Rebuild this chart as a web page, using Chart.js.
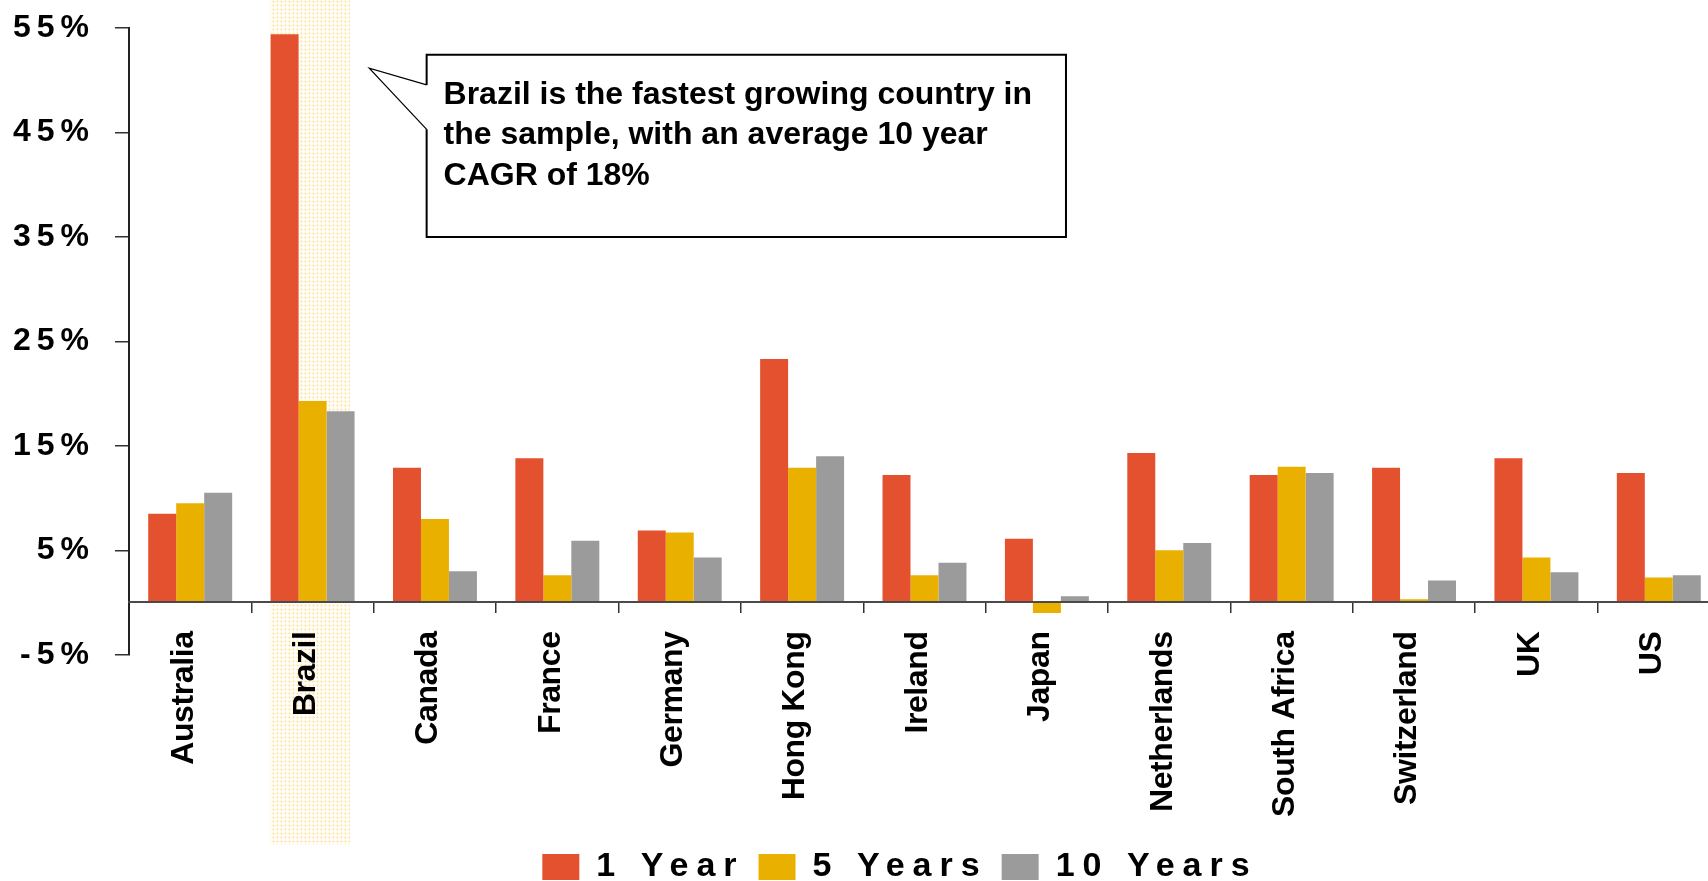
<!DOCTYPE html>
<html>
<head>
<meta charset="utf-8">
<script src="https://cdn.jsdelivr.net/npm/chart.js@4/dist/chart.umd.min.js"></script>
<style>
  html, body { margin: 0; padding: 0; background: #ffffff; overflow: hidden; }
</style>
</head>
<body>
<canvas id="growth" width="1800" height="894" style="display:block;width:1800px;height:894px;"></canvas>
<script>
// Average annual growth by country (%)
const categories = ['Australia', 'Brazil', 'Canada', 'France', 'Germany', 'Hong Kong', 'Ireland',
  'Japan', 'Netherlands', 'South Africa', 'Switzerland', 'UK', 'US'];
const seriesNames = ['1 Year', '5 Years', '10 Years'];
const oneYear   = [8.5, 54.4, 12.9, 13.8, 6.9, 23.3, 12.2, 6.1, 14.3, 12.2, 12.9, 13.8, 12.4];
const fiveYears = [9.5, 19.3, 8.0, 2.6, 6.7, 12.9, 2.6, -1.0, 5.0, 13.0, 0.3, 4.3, 2.4];
const tenYears  = [10.5, 18.3, 3.0, 5.9, 4.3, 14.0, 3.8, 0.6, 5.7, 12.4, 2.1, 2.9, 2.6];
const yTickValues = [-5, 5, 15, 25, 35, 45, 55];
const highlightCategory = 'Brazil';
const calloutLines = [
  'Brazil is the fastest growing country in',
  'the sample, with an average 10 year',
  'CAGR of 18%'
];

const seriesValues = [oneYear, fiveYears, tenYears];
const seriesColors = ['#E4512F', '#EAB000', '#9B9B9B'];
const FONT = '"Liberation Sans", Arial, Helvetica, sans-serif';

// Callout placement in axis units (category index, percent)
const calloutSpec = {
  tip: [1.463, 51.15],
  box: { left: 1.932, top: 52.45, right: 7.156, bottom: 35.0 },
  attach: [49.55, 45.3],
  textX: 2.07,
  firstBaseline: 49,
  lineGap: 40.5
};

// Run a drawing/measuring method with a given canvas letter spacing
function withLetterSpacing(target, method, spacing) {
  if (!target || !target[method] || target[method].__spaced) return;
  const original = target[method];
  const wrapped = function (...args) {
    const ctx = this.ctx;
    const previous = ctx.letterSpacing;
    ctx.letterSpacing = spacing;
    try { return original.apply(this, args); }
    finally { ctx.letterSpacing = previous; }
  };
  wrapped.__spaced = true;
  target[method] = wrapped;
}

const spacingPlugin = {
  id: 'spacing',
  beforeLayout(chart) {
    withLetterSpacing(chart.legend, 'fit', '8px');
    withLetterSpacing(chart.legend, 'draw', '8px');
    withLetterSpacing(chart.scales.y, 'drawLabels', '6px');
    withLetterSpacing(chart.scales.x, 'drawLabels', '-0.4px');
  }
};

function dotPattern(ctx) {
  const tile = document.createElement('canvas');
  tile.width = 4; tile.height = 4;
  const p = tile.getContext('2d');
  p.fillStyle = '#fffdf6'; p.fillRect(0, 0, 4, 4);
  p.fillStyle = '#fdefc8';
  p.fillRect(0, 1, 1, 1); p.fillRect(2, 1, 1, 1); p.fillRect(1, 0, 1, 1); p.fillRect(1, 2, 1, 1);
  p.fillStyle = '#fbe3a2'; p.fillRect(1, 1, 1, 1);
  return ctx.createPattern(tile, 'repeat');
}

// Shaded column behind the highlighted country
const highlightPlugin = {
  id: 'highlight',
  beforeDraw(chart) {
    const xs = chart.scales.x, ys = chart.scales.y;
    const idx = categories.indexOf(highlightCategory);
    const center = xs.getPixelForValue(idx);
    const w = xs.getPixelForValue(1) - xs.getPixelForValue(0);
    const ctx = chart.ctx;
    ctx.save();
    ctx.fillStyle = dotPattern(ctx);
    ctx.fillRect(center - 0.348 * w, 0, 0.654 * w, ys.getPixelForValue(-5) + 190);
    ctx.restore();
  }
};

// Speech-bubble note pointing at the highlighted bars
const calloutPlugin = {
  id: 'callout',
  afterDraw(chart) {
    const xs = chart.scales.x, ys = chart.scales.y, ctx = chart.ctx;
    const s = calloutSpec;
    const L = xs.getPixelForValue(s.box.left), R = xs.getPixelForValue(s.box.right);
    const T = ys.getPixelForValue(s.box.top), B = ys.getPixelForValue(s.box.bottom);
    const tx = xs.getPixelForValue(s.tip[0]), ty = ys.getPixelForValue(s.tip[1]);
    const a1 = ys.getPixelForValue(s.attach[0]), a2 = ys.getPixelForValue(s.attach[1]);
    ctx.save();
    ctx.beginPath();
    ctx.moveTo(L, a1); ctx.lineTo(tx, ty); ctx.lineTo(L, a2);
    ctx.lineTo(L, B); ctx.lineTo(R, B); ctx.lineTo(R, T); ctx.lineTo(L, T);
    ctx.closePath();
    ctx.fillStyle = '#ffffff';
    ctx.fill();
    ctx.strokeStyle = '#000000';
    ctx.lineJoin = 'miter';
    ctx.lineWidth = 1.2;
    ctx.beginPath();
    ctx.moveTo(L, a1); ctx.lineTo(tx, ty); ctx.lineTo(L, a2);
    ctx.stroke();
    ctx.lineWidth = 2;
    ctx.beginPath();
    ctx.moveTo(L, a2); ctx.lineTo(L, B); ctx.lineTo(R, B); ctx.lineTo(R, T); ctx.lineTo(L, T); ctx.lineTo(L, a1);
    ctx.stroke();
    ctx.fillStyle = '#000000';
    ctx.font = 'bold 32px ' + FONT;
    ctx.textAlign = 'left';
    ctx.textBaseline = 'alphabetic';
    const textLeft = xs.getPixelForValue(s.textX);
    calloutLines.forEach((line, i) => {
      ctx.fillText(line, textLeft, T + s.firstBaseline + i * s.lineGap);
    });
    ctx.restore();
  }
};

const chart = new Chart(document.getElementById('growth'), {
  type: 'bar',
  data: {
    labels: categories,
    datasets: seriesNames.map((name, i) => ({
      label: name,
      data: seriesValues[i],
      backgroundColor: seriesColors[i],
      borderWidth: 0,
      xAxisID: 'x',
      yAxisID: 'y',
      categoryPercentage: 0.686,
      barPercentage: 1.0
    }))
  },
  options: {
    responsive: false,
    animation: false,
    devicePixelRatio: 1,
    events: [],
    layout: { padding: { top: 28, right: 0, bottom: 0, left: 0 } },
    plugins: {
      legend: {
        position: 'bottom',
        labels: {
          boxWidth: 37,
          boxHeight: 26,
          padding: 14,
          color: '#000000',
          font: { family: FONT, size: 34, weight: 'bold' }
        }
      },
      tooltip: { enabled: false }
    },
    scales: {
      // Category axis drawn along the zero line; its labels hang below it
      x: {
        type: 'category',
        position: { y: 0 },
        offset: true,
        grid: { display: true, drawOnChartArea: false, drawTicks: true, tickLength: 10, offset: true, color: '#333333', lineWidth: 1.5 },
        border: { display: true, color: '#4a4a4a', width: 2, z: 1 },
        ticks: {
          autoSkip: false,
          minRotation: 90,
          maxRotation: 90,
          padding: 19,
          labelOffset: -6.5,
          color: '#000000',
          font: { family: FONT, size: 32, weight: 'bold' }
        },
        afterFit(scale) { scale.height = 0; }
      },
      // Reserves the room under the plot that the rotated labels occupy
      xSpace: {
        type: 'category',
        position: 'bottom',
        offset: true,
        grid: { display: false, drawTicks: false },
        border: { display: false },
        ticks: { display: false },
        afterFit(scale) { scale.height = 181.3; }
      },
      y: {
        min: -5,
        max: 55,
        afterBuildTicks(scale) { scale.ticks = yTickValues.map(v => ({ value: v })); },
        grid: { drawOnChartArea: false, drawTicks: true, tickLength: 14, color: '#333333', lineWidth: 1.5 },
        border: { display: true, color: '#222222', width: 2 },
        ticks: {
          padding: 20,
          color: '#000000',
          font: { family: FONT, size: 32, weight: 'bold', lineHeight: 0.5 },
          callback: v => v + '%'
        },
        afterFit(scale) { scale.width = 129; }
      },
      // Empty margin to the right of the plot
      ySpace: {
        type: 'linear',
        position: 'right',
        grid: { display: false, drawTicks: false },
        border: { display: false },
        ticks: { display: false },
        afterFit(scale) { scale.width = 80; }
      }
    }
  },
  plugins: [spacingPlugin, highlightPlugin, calloutPlugin]
});
</script>
</body>
</html>
